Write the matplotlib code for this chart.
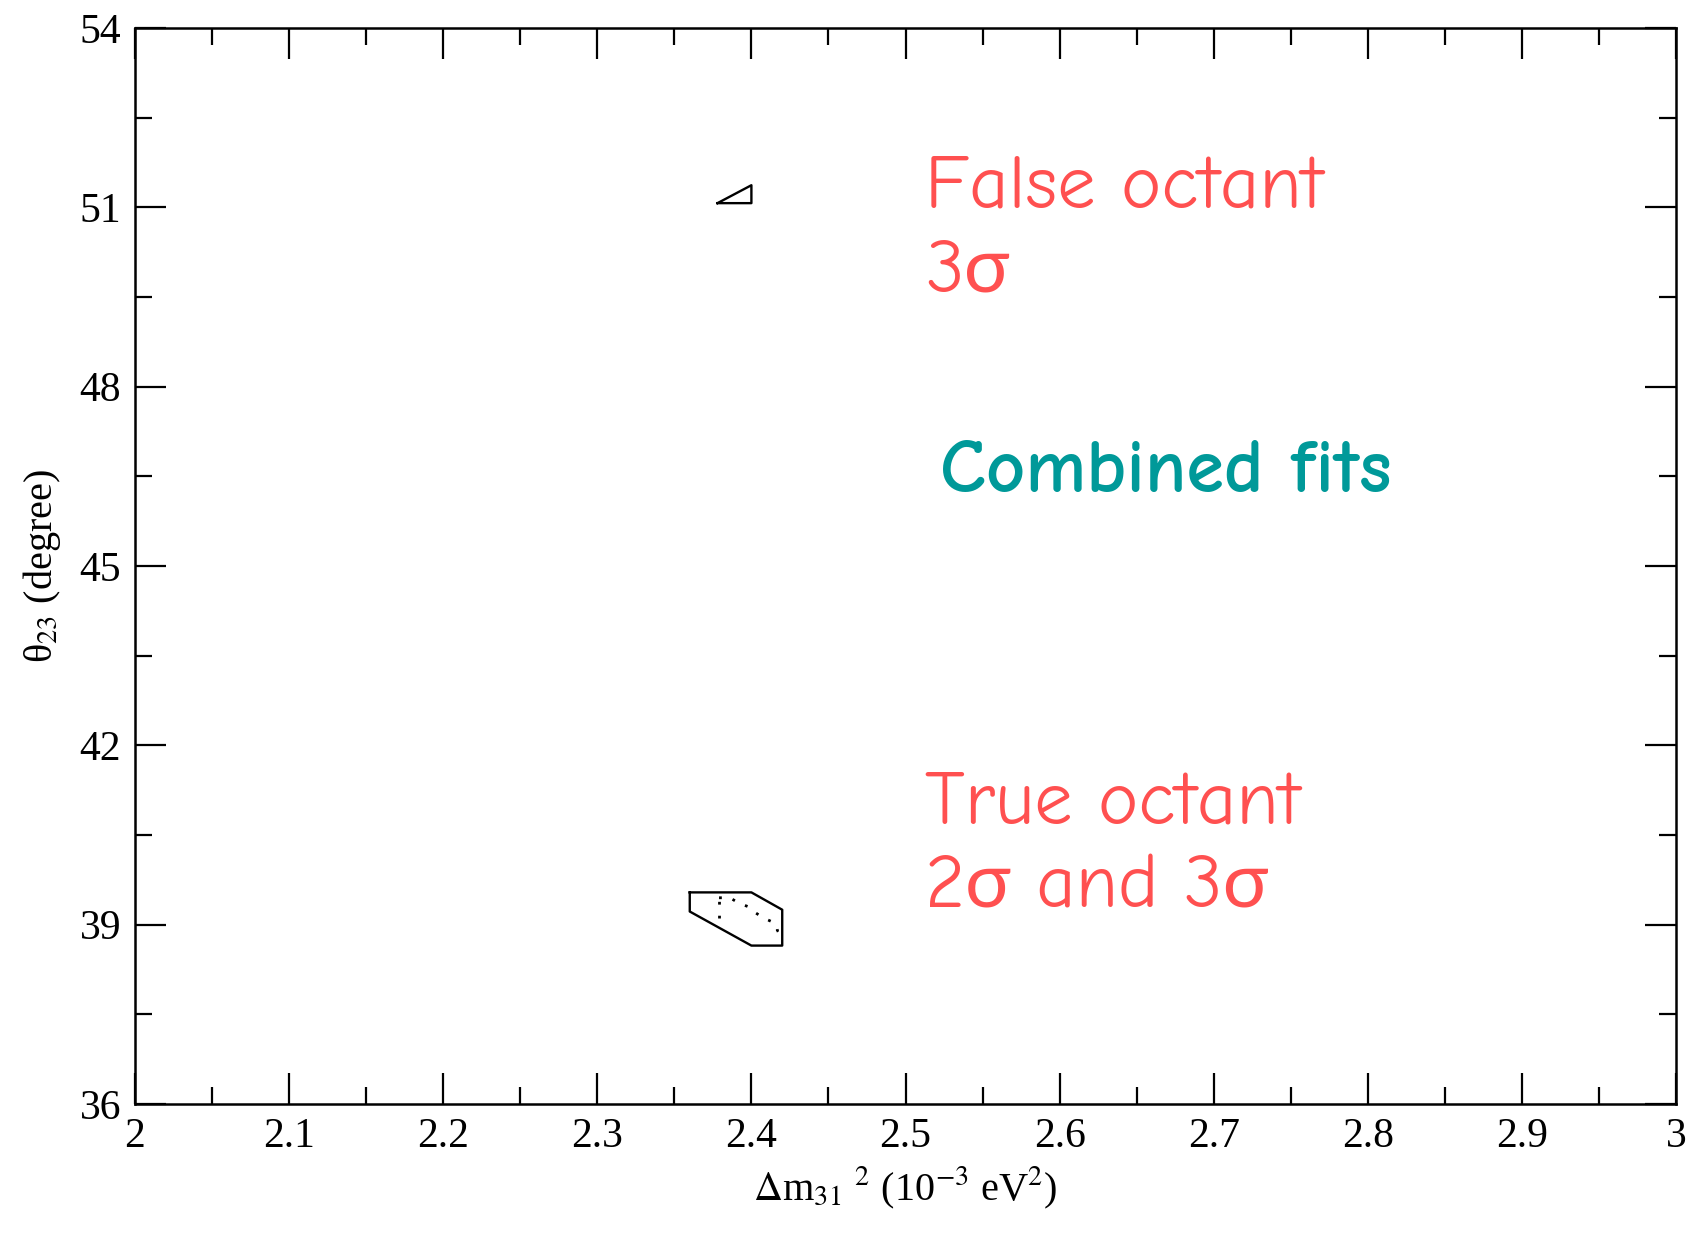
import matplotlib
matplotlib.use("Agg")
import matplotlib.pyplot as plt
from matplotlib.ticker import MultipleLocator

plt.rcParams['font.family'] = ['Liberation Serif', 'DejaVu Serif']
plt.rcParams['mathtext.fontset'] = 'stix'

# 3 sigma contour, true octant (solid)
true3_dm = [2.360, 2.360, 2.400, 2.420, 2.420, 2.400, 2.360]
true3_th = [39.54, 39.22, 38.65, 38.65, 39.25, 39.54, 39.54]

# 2 sigma contour, true octant (dotted)
true2_dm = [2.379, 2.386, 2.392, 2.399, 2.402, 2.408, 2.415, 2.417, 2.410]
true2_th = [39.45, 39.45, 39.36, 39.29, 39.21, 39.11, 39.03, 38.90, 38.82]
true2_left_dm = [2.379, 2.379, 2.379]
true2_left_th = [39.11, 39.28, 39.45]

# 3 sigma contour, false octant (solid)
false3_dm = [2.378, 2.400, 2.400, 2.378]
false3_th = [51.07, 51.37, 51.07, 51.07]

W, H = 1693, 1237
fig = plt.figure(figsize=(W / 100, H / 100), dpi=100)
ax = fig.add_axes([135 / W, 1 - 1104 / H, (1676 - 135) / W, (1104 - 28) / H])

ax.plot(true3_dm, true3_th, color='black', lw=1.7)
ax.plot(true2_dm, true2_th, color='black', lw=2.0, ls=(0, (1, 4)))
ax.plot(true2_left_dm, true2_left_th, color='black', lw=2.0, ls=(0, (1, 4)))
ax.plot(false3_dm, false3_th, color='black', lw=1.7)

ax.set_xlim(2, 3)
ax.set_ylim(36, 54)
ax.xaxis.set_major_locator(MultipleLocator(0.1))
ax.xaxis.set_minor_locator(MultipleLocator(0.05))
ax.yaxis.set_major_locator(MultipleLocator(3))
ax.yaxis.set_minor_locator(MultipleLocator(1.5))
ax.set_xticks([2, 2.1, 2.2, 2.3, 2.4, 2.5, 2.6, 2.7, 2.8, 2.9, 3])
ax.set_xticklabels(['2', '2.1', '2.2', '2.3', '2.4', '2.5', '2.6', '2.7', '2.8', '2.9', '3'])
ax.tick_params(which='both', direction='in', top=True, right=True,
               width=1.6, labelsize=30, colors='black')
ax.tick_params(which='major', length=22, pad=10)
ax.tick_params(which='minor', length=12)
for s in ax.spines.values():
    s.set_linewidth(1.8)

ax.set_xlabel(r'$\Delta$m$_{31}$$^{\,\,\,2}$ (10$^{-3}$ eV$^{2}$)', fontsize=29, labelpad=6)
ax.set_ylabel(r'θ$_{23}$ (degree)', fontsize=29, labelpad=12)

hand = ['Comic Neue', 'Lato', 'DejaVu Sans']
red = '#ff5050'
teal = '#009999'
fig.text(925 / W, 1 - 208 / H, 'False octant', color=red, fontsize=55, family=hand, va='baseline')
fig.text(925 / W, 1 - 292 / H, '3σ', color=red, fontsize=55, family=hand, va='baseline')
fig.text(940 / W, 1 - 492 / H, 'Combined fits', color=teal, fontsize=55, family=hand,
         weight='bold', va='baseline')
fig.text(925 / W, 1 - 823 / H, 'True octant', color=red, fontsize=55, family=hand, va='baseline')
fig.text(925 / W, 1 - 907 / H, '2σ and 3σ', color=red, fontsize=55, family=hand, va='baseline')

fig.savefig('out.png', dpi=100)
